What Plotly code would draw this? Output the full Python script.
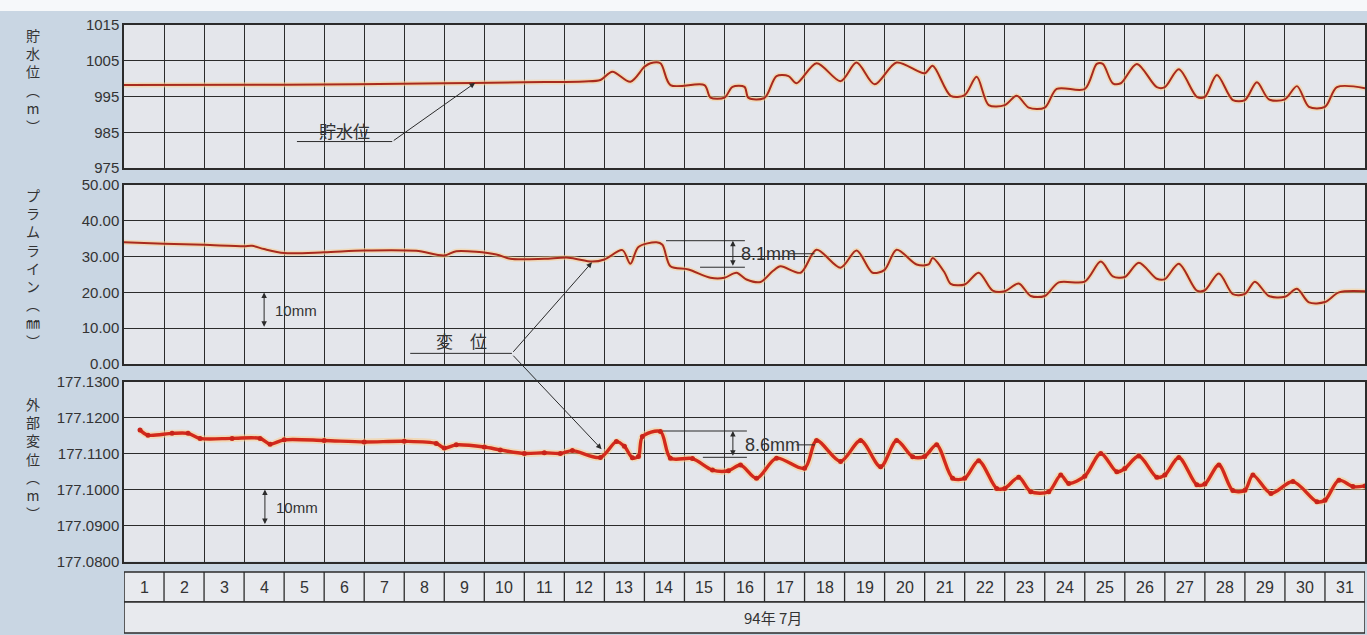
import plotly.graph_objects as go

# ---------------- data (x = elapsed days from 1 July 00:00) ----------------
t_res = [0, 4, 8, 10, 11.5, 11.9, 12.2, 12.65, 13.0, 13.15, 13.4, 13.65, 14.5, 14.65, 15.0,
         15.2, 15.5, 15.6, 16.0, 16.3, 16.6, 16.8, 17.3, 17.9, 18.3, 18.75, 19.3, 20.0, 20.2,
         20.65, 21.0, 21.3, 21.6, 22.0, 22.3, 22.6, 23.0, 23.3, 24.0, 24.3, 24.45, 24.7, 24.9,
         25.3, 25.8, 26.0, 26.35, 26.8, 27.0, 27.3, 27.7, 28.0, 28.3, 28.6, 29.0, 29.3, 29.6,
         30.0, 30.3, 31.0]
reservoir = [998.2, 998.3, 998.7, 999.0, 999.2, 999.6, 1001.9, 999.1, 1003.3, 1004.3, 1004.3,
             998.2, 998.2, 994.7, 994.7, 997.7, 997.7, 994.6, 994.6, 1000.7, 1000.7, 998.7,
             1004.3, 999.3, 1004.5, 998.4, 1004.5, 1001.5, 1003.6, 995.2, 995.4, 1000.5, 992.6,
             992.6, 995.2, 991.9, 991.9, 997.1, 997.1, 1004.1, 1004.1, 998.7, 998.7, 1004.1,
             997.6, 997.6, 1002.6, 994.9, 994.9, 1001.0, 994.0, 994.0, 999.0, 994.2, 994.2,
             997.9, 992.1, 992.1, 997.6, 997.3]

t_plumb = [0, 1, 2, 3.0, 3.2, 3.5, 4.0, 5, 6.0, 7.3, 8.0, 8.3, 9.3, 9.65, 10.5, 11.1, 11.7,
           12.0, 12.45, 12.65, 12.85, 13.3, 13.45, 13.65, 14.1, 14.65, 15.0, 15.3, 15.55, 15.9,
           16.2, 16.4, 16.9, 17.3, 17.9, 18.3, 18.7, 19.0, 19.3, 19.8, 20.1, 20.2, 20.5, 20.65,
           21.0, 21.35, 21.7, 22.0, 22.35, 22.65, 23.0, 23.35, 24.0, 24.4, 24.7, 25.0, 25.35,
           25.8, 26.0, 26.35, 26.8, 27.0, 27.35, 27.7, 28.0, 28.25, 28.6, 29.0, 29.3, 29.6,
           30.0, 30.35, 31.0]
plumb = [34.0, 33.6, 33.3, 32.9, 33.0, 32.1, 31.0, 31.2, 31.7, 31.6, 30.3, 31.5, 30.6, 29.4,
         29.4, 29.7, 28.6, 29.2, 31.8, 28.0, 32.7, 34.0, 33.3, 27.3, 26.4, 24.1, 24.1, 25.5,
         23.6, 22.9, 25.9, 27.3, 25.5, 31.9, 26.9, 31.7, 25.5, 26.3, 31.9, 27.8, 27.8, 29.6,
         25.5, 22.4, 22.2, 25.5, 20.5, 20.3, 22.5, 19.0, 19.0, 22.8, 23.0, 28.6, 24.5, 24.3,
         28.3, 23.8, 23.7, 28.0, 20.5, 20.6, 25.3, 19.5, 19.6, 23.0, 19.0, 18.8, 21.0, 17.2,
         17.3, 20.0, 20.3]

t_ext = [0.4, 0.6, 1.2, 1.6, 1.9, 2.7, 3.4, 3.65, 4.0, 5, 6, 7, 7.8, 8.0, 8.3, 9.0, 9.4, 10,
         10.5, 10.9, 11.2, 11.9, 12.3, 12.5, 12.7, 12.85, 12.95, 13.4, 13.65, 14.2, 14.7, 15.1,
         15.4, 15.8, 16.3, 17.0, 17.3, 17.9, 18.4, 18.9, 19.3, 19.7, 20.0, 20.3, 20.7, 21.0,
         21.35, 21.8, 22.0, 22.35, 22.65, 23.1, 23.4, 23.6, 24.0, 24.4, 24.8, 25.0, 25.35,
         25.8, 26.0, 26.35, 26.8, 27.0, 27.35, 27.7, 28.0, 28.2, 28.65, 29.2, 29.8, 30.0,
         30.35, 30.7, 31.0]
external = [177.1165, 177.1151, 177.1156, 177.1156, 177.1142, 177.1142, 177.1142, 177.1126,
            177.1138, 177.1136, 177.1132, 177.1134, 177.1128, 177.1115, 177.1124, 177.1118,
            177.1110, 177.1100, 177.1102, 177.1100, 177.1108, 177.1089, 177.1133, 177.1120,
            177.1088, 177.1092, 177.1147, 177.1161, 177.1087, 177.1086, 177.1054, 177.1052,
            177.1068, 177.1031, 177.1087, 177.1059, 177.1136, 177.1078, 177.1136, 177.1063,
            177.1136, 177.1091, 177.1092, 177.1124, 177.1031, 177.1031, 177.1080, 177.1003,
            177.1003, 177.1034, 177.0994, 177.0994, 177.1040, 177.1017, 177.1037, 177.1100,
            177.1049, 177.1058, 177.1093, 177.1034, 177.1040, 177.1089, 177.1013, 177.1015,
            177.1068, 177.0997, 177.0998, 177.1040, 177.0989, 177.1022, 177.0966, 177.0970,
            177.1026, 177.1008, 177.1010]

days = list(range(1, 32))
month_label = "94年 7月"
res_ticks = [975, 985, 995, 1005, 1015]
plumb_ticks = [0, 10, 20, 30, 40, 50]
ext_ticks = [177.08, 177.09, 177.10, 177.11, 177.12, 177.13]

# ---------------- figure ----------------
W, H = 1367, 635
NUM_FONT = "Liberation Sans Narrow, Liberation Sans, Arial, sans-serif"
JP_FONT = "Noto Sans CJK JP, sans-serif"
INK = "#2b2b2b"

def py(px):
    return 1 - px / H

fig = go.Figure()

halo = "rgba(250,205,140,0.55)"
SM = 0.85
fig.add_trace(go.Scatter(x=t_res, y=reservoir, xaxis="x", yaxis="y", mode="lines",
                         line=dict(color=halo, width=5, shape="spline", smoothing=SM),
                         hoverinfo="skip", showlegend=False))
fig.add_trace(go.Scatter(x=t_res, y=reservoir, xaxis="x", yaxis="y", mode="lines",
                         line=dict(color="#a82a1e", width=2, shape="spline", smoothing=SM),
                         name="貯水位", showlegend=False))
fig.add_trace(go.Scatter(x=t_plumb, y=plumb, xaxis="x2", yaxis="y2", mode="lines",
                         line=dict(color=halo, width=5, shape="spline", smoothing=SM),
                         hoverinfo="skip", showlegend=False))
fig.add_trace(go.Scatter(x=t_plumb, y=plumb, xaxis="x2", yaxis="y2", mode="lines",
                         line=dict(color="#a82a1e", width=2, shape="spline", smoothing=SM),
                         name="プラムライン", showlegend=False))
fig.add_trace(go.Scatter(x=t_ext, y=external, xaxis="x3", yaxis="y3", mode="lines",
                         line=dict(color=halo, width=7, shape="spline", smoothing=SM),
                         hoverinfo="skip", showlegend=False))
fig.add_trace(go.Scatter(x=t_ext, y=external, xaxis="x3", yaxis="y3", mode="lines+markers",
                         line=dict(color="#d32a1c", width=3.4, shape="spline", smoothing=SM),
                         marker=dict(color="#c8231a", size=5),
                         name="外部変位", showlegend=False))

xcommon = dict(range=[0, 31], dtick=1, tick0=0, showgrid=True, gridcolor=INK, gridwidth=1.3,
               showticklabels=False, zeroline=False, showline=True, mirror=True,
               linecolor=INK, linewidth=1.5, ticks="", automargin=False)
ycommon = dict(showgrid=True, gridcolor=INK, gridwidth=1.3, zeroline=False, showline=True,
               mirror=True, linecolor=INK, linewidth=1.5, ticks="", automargin=False,
               tickfont=dict(family=NUM_FONT, size=15, color="#333"))

fig.update_layout(
    width=W, height=H,
    margin=dict(l=124, r=2, t=0, b=0, pad=0, autoexpand=False),
    paper_bgcolor="#c9d6e3",
    plot_bgcolor="#e4e6eb",
    showlegend=False,
    xaxis=dict(domain=[0, 1], anchor="y", **xcommon),
    xaxis2=dict(domain=[0, 1], anchor="y2", matches="x", **xcommon),
    xaxis3=dict(domain=[0, 1], anchor="y3", matches="x", **xcommon),
    yaxis=dict(domain=[py(168), py(25)], anchor="x", range=[975, 1015], tickvals=res_ticks,
               ticktext=[str(v) for v in res_ticks], **ycommon),
    yaxis2=dict(domain=[py(364), py(185)], anchor="x2", range=[0, 50], tickvals=plumb_ticks,
                ticktext=[f"{v:.2f}" for v in plumb_ticks], **ycommon),
    yaxis3=dict(domain=[py(561.5), py(381.5)], anchor="x3", range=[177.08, 177.13],
                tickvals=ext_ticks, ticktext=[f"{v:.4f}" for v in ext_ticks], **ycommon),
)

shapes = []
anns = []

# white strip of the scanned page
shapes.append(dict(type="rect", xref="paper", yref="paper", x0=-0.2, x1=1.1, y0=py(11), y1=1.0,
                   fillcolor="#f6f8fa", line=dict(width=0), layer="below"))

# vertical axis titles
def vtitle(chars, ypx, size=15):
    anns.append(dict(xref="paper", yref="paper", x=-(124 - 33) / (W - 126), y=py(ypx),
                     xanchor="center", yanchor="middle", showarrow=False,
                     text="<br>".join(chars),
                     font=dict(family=JP_FONT, size=size, color="#333")))

vtitle(["貯", "水", "位", "︵", "m", "︶"], 80, 14)
vtitle(["プ", "ラ", "ム", "ラ", "イ", "ン", "︵", "㎜", "︶"], 268, 14)
vtitle(["外", "部", "変", "位", "︵", "m", "︶"], 458, 14)

# bottom day table
row1 = (py(602), py(572))
row2 = (py(633), py(602))
for (y0, y1) in (row1, row2):
    shapes.append(dict(type="rect", xref="x3", yref="paper", x0=0, x1=31, y0=y0, y1=y1,
                       fillcolor="#e8eaee", line=dict(color=INK, width=1.5)))
for d in days:
    if d > 1:
        shapes.append(dict(type="line", xref="x3", yref="paper", x0=d - 1, x1=d - 1,
                           y0=row1[0], y1=row1[1], line=dict(color=INK, width=1.3)))
    anns.append(dict(xref="x3", yref="paper", x=d - 0.5, y=(row1[0] + row1[1]) / 2,
                     text=str(d), showarrow=False, xanchor="center", yanchor="middle",
                     font=dict(family=NUM_FONT, size=16, color="#333")))
anns.append(dict(xref="x3", yref="paper", x=16.2, y=(row2[0] + row2[1]) / 2, text=month_label,
                 showarrow=False, xanchor="center", yanchor="middle",
                 font=dict(family=JP_FONT, size=15, color="#333")))

LBL = dict(family=JP_FONT, size=17, color="#333")

def hline(xr, yr, x0, x1, y):
    shapes.append(dict(type="line", xref=xr, yref=yr, x0=x0, x1=x1, y0=y, y1=y,
                       line=dict(color=INK, width=1)))

def arrow(xr, yr, x, y, ax, ay, both=False):
    anns.append(dict(xref=xr, yref=yr, x=x, y=y, ax=ax, ay=ay, axref=xr, ayref=yr,
                     showarrow=True, text="", arrowhead=2, arrowsize=1.1, arrowwidth=1,
                     arrowcolor=INK, arrowside="end+start" if both else "end",
                     standoff=0, startstandoff=0))

# 貯水位 label
hline("x", "y", 4.32, 6.70, 982.4)
arrow("x", "y", 8.77, 998.8, 6.70, 982.4)
anns.append(dict(xref="x", yref="y", x=5.5, y=985.6, text="貯水位", showarrow=False,
                 xanchor="center", yanchor="middle", font=LBL))

# 変 位 label
hline("x2", "y2", 7.15, 9.69, 2.97)
arrow("x2", "y2", 11.69, 28.4, 9.69, 2.97)
anns.append(dict(xref="x3", yref="y3", x=11.93, y=177.1112, ax=-89.7, ay=-95,
                 showarrow=True, text="", arrowhead=2, arrowsize=1.1, arrowwidth=1,
                 arrowcolor=INK, standoff=0))
anns.append(dict(xref="x2", yref="y2", x=8.44, y=6.5, text="変　位", showarrow=False,
                 xanchor="center", yanchor="middle", font=LBL))

# 8.1mm annotation
hline("x2", "y2", 13.54, 15.51, 34.44)
hline("x2", "y2", 14.39, 15.51, 27.03)
arrow("x2", "y2", 15.21, 34.44, 15.21, 27.03, both=True)
anns.append(dict(xref="x2", yref="y2", x=15.35, y=30.8, text="8.1mm", showarrow=False,
                 xanchor="left", yanchor="middle",
                 font=dict(family=NUM_FONT, size=18, color="#333")))
hline("x2", "y2", 16.62, 17.25, 30.8)

# 8.6mm annotation
hline("x3", "y3", 13.46, 15.56, 177.11625)
hline("x3", "y3", 14.46, 15.56, 177.10894)
arrow("x3", "y3", 15.21, 177.11625, 15.21, 177.10894, both=True)
anns.append(dict(xref="x3", yref="y3", x=15.45, y=177.1124, text="8.6mm", showarrow=False,
                 xanchor="left", yanchor="middle",
                 font=dict(family=NUM_FONT, size=18, color="#333")))
hline("x3", "y3", 16.8, 17.26, 177.1124)

# 10mm scale marks
arrow("x2", "y2", 3.5, 20, 3.5, 10, both=True)
anns.append(dict(xref="x2", yref="y2", x=3.72, y=15, text="10mm", showarrow=False,
                 xanchor="left", yanchor="middle",
                 font=dict(family=NUM_FONT, size=15, color="#333")))
arrow("x3", "y3", 3.52, 177.10, 3.52, 177.09, both=True)
anns.append(dict(xref="x3", yref="y3", x=3.74, y=177.095, text="10mm", showarrow=False,
                 xanchor="left", yanchor="middle",
                 font=dict(family=NUM_FONT, size=15, color="#333")))

fig.update_layout(shapes=shapes, annotations=anns)
fig.write_html("out.html", config={"displayModeBar": False},
               post_script="document.body.style.margin='0';"
                           "document.documentElement.style.overflow='hidden';")
